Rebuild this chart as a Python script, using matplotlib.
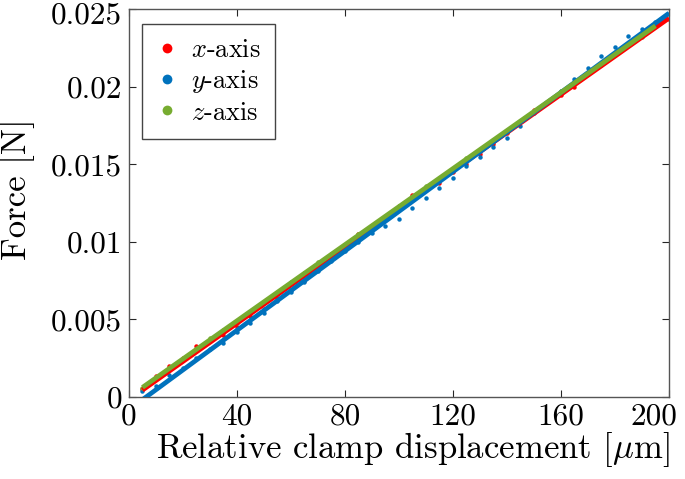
import numpy as np
import matplotlib
matplotlib.use("Agg")
import matplotlib.pyplot as plt
from matplotlib.transforms import ScaledTranslation

plt.rcParams['font.family'] = 'serif'
plt.rcParams['font.serif'] = ['cmr10']
plt.rcParams['mathtext.fontset'] = 'cm'
plt.rcParams['axes.unicode_minus'] = False

# displacement steps [um]
disp = [5, 10, 15, 20, 25, 30, 35, 40, 45, 50, 55, 60, 65, 70, 75, 80, 85, 90, 95, 100,
        105, 110, 115, 120, 125, 130, 135, 140, 145, 150, 155, 160, 165, 170, 175, 180,
        185, 190, 195, 200]

force_x = [0.0005, 0.00135, 0.0020, 0.0025, 0.0033, 0.0037, 0.0040, 0.0045, 0.0052, 0.0057,
           0.0064, 0.0069, 0.0075, 0.0084, 0.0090, 0.0096, 0.0105, 0.0110, 0.0116, 0.0123,
           0.0130, 0.0135, 0.0138, 0.0145, 0.0150, 0.0157, 0.0163, 0.0170, 0.0178, 0.0185,
           0.0190, 0.0195, 0.0200, 0.0208, 0.0215, 0.0222, 0.0228, 0.0234, 0.0240, 0.0244]

force_y = [0.0004, 0.0007, 0.0014, 0.0019, 0.0025, 0.0031, 0.0035, 0.0042, 0.0048, 0.0054,
           0.0062, 0.0068, 0.0074, 0.0081, 0.0088, 0.0094, 0.0100, 0.0106, 0.0110, 0.0115,
           0.0122, 0.0128, 0.0135, 0.0141, 0.0149, 0.0155, 0.0161, 0.0167, 0.0175, 0.0183,
           0.0190, 0.0197, 0.0205, 0.0212, 0.0220, 0.0226, 0.0233, 0.0237, 0.0242, 0.0247]

# z-axis stops one step earlier
force_z = [0.0006, 0.0013, 0.0019, 0.0024, 0.0031, 0.0038, 0.0043, 0.0048, 0.0055, 0.0061,
           0.0067, 0.0074, 0.0080, 0.0087, 0.0092, 0.0098, 0.0105, 0.0110, 0.0116, 0.0123,
           0.0129, 0.0136, 0.0141, 0.0147, 0.0154, 0.0159, 0.0166, 0.0171, 0.0178, 0.0184,
           0.0190, 0.0197, 0.0202, 0.0208, 0.0214, 0.0221, 0.0227, 0.0232, 0.0239]

# linear fits: (slope, intercept)
fit_x = (0.0001230, -0.00017)
fit_y = (0.0001278, -0.00081)
fit_z = (0.0001227, 0.0000065)

labels = [r'$x$-axis', r'$y$-axis', r'$z$-axis']
colors = ['#ff0000', '#0072bd', '#77ac30']

fig = plt.figure(figsize=(6.85, 4.79), dpi=100)
ax = fig.add_axes([0.1883, 0.1712, 0.7883, 0.8094])

series = [(disp, force_x, fit_x), (disp, force_y, fit_y), (disp[:len(force_z)], force_z, fit_z)]
for (d, f, fit), c, lab in zip(series, colors, labels):
    ax.plot(d, f, 'o', color=c, ms=3.2, mec='none', label=lab, zorder=2)
for (d, f, fit), c in zip(series, colors):
    xx = np.array([d[0], d[-1]])
    ax.plot(xx, fit[0] * xx + fit[1], '-', color=c, lw=3.4, zorder=3, solid_capstyle='butt')

ax.set_xlim(0, 200)
ax.set_ylim(0, 0.025)
xt = [0, 40, 80, 120, 160, 200]
yt = [0, 0.005, 0.01, 0.015, 0.02, 0.025]
ax.set_xticks(xt)
ax.set_xticklabels([str(v) for v in xt])
ax.set_yticks(yt)
ax.set_yticklabels(['0', '0.005', '0.01', '0.015', '0.02', '0.025'])
ax.tick_params(direction='in', length=5, width=0.8, top=True, right=True,
               labelsize=22.5, colors='#262626', labelcolor='black')
ax.tick_params(axis='y', pad=5)
ax.tick_params(axis='x', pad=4)


def nudge(t, dx, dy):
    t.set_transform(t.get_transform() + ScaledTranslation(dx / 100, dy / 100, fig.dpi_scale_trans))


# keep the edge labels inside the figure, as in the original
nudge(ax.get_xticklabels()[-1], -15, 0)
nudge(ax.get_yticklabels()[-1], 0, -3)

for s in ax.spines.values():
    s.set_color('#555555')
    s.set_linewidth(1.0)

ax.set_xlabel(r'Relative clamp displacement [$\mu$m]', fontsize=25)
ax.xaxis.set_label_coords(0.526, -0.085)
ax.set_ylabel('Force [N]', fontsize=25)
ax.yaxis.set_label_coords(-0.174, 0.536)

leg = ax.legend(loc='upper left', fontsize=19, markerscale=2.2, handlelength=0.8,
                handletextpad=0.5, borderpad=0.55, labelspacing=0.22, fancybox=False,
                framealpha=1, edgecolor='#444444', borderaxespad=0,
                bbox_to_anchor=(0.024, 0.962))
leg.get_frame().set_linewidth(1.0)

fig.savefig('out.png', dpi=100)
